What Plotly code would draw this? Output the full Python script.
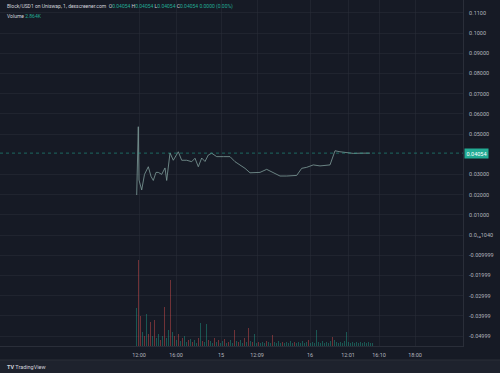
import plotly.graph_objects as go

# ---- data ----
price_x = [-2.3, -0.7, 0, 2.7, 5.5, 9.3, 12, 14.3, 17, 19.3, 22.7, 26, 27.7, 31, 34.3, 39.3, 42.7,
           47.7, 52.7, 56, 59.3, 62.7, 66, 69.3, 72.7, 77.7, 84.3, 91, 96, 101, 106, 111, 121,
           127.7, 134.3, 141, 147.7, 157.7, 162.7, 167.7, 174.3, 181, 191, 196, 201, 214.3, 221, 231]
price_y = [0.0198, 0.0536, 0.0272, 0.0223, 0.0300, 0.0338, 0.0290, 0.0270, 0.0310, 0.0310, 0.0300,
           0.0332, 0.0270, 0.0406, 0.0370, 0.0412, 0.0370, 0.0370, 0.0363, 0.0380, 0.0338, 0.0381,
           0.0364, 0.0396, 0.0405, 0.0388, 0.0388, 0.0388, 0.0363, 0.0347, 0.0330, 0.0308, 0.0310,
           0.0325, 0.0310, 0.0292, 0.0292, 0.0295, 0.0330, 0.0335, 0.0347, 0.0342, 0.0347, 0.0417,
           0.0412, 0.0404, 0.0405, 0.04054]

vol_x = list(range(-3, 234, 2))
vol_k = [38, 86, 30, 14, 10, 32, 12, 24, 10, 26, 8, 12, 6, 10, 39, 8, 16, 66, 14, 10,
         6, 12, 5, 8, 10, 4, 6, 7, 4, 6, 3, 8, 23, 5, 4, 22, 6, 5, 3, 8,
         4, 6, 3, 5, 7, 3, 4, 6, 3, 16, 5, 4, 6, 3, 8, 4, 18, 5, 4, 12,
         3, 4, 3, 4, 3, 5, 4, 3, 11, 4, 3, 5, 3, 4, 3, 4, 3, 5, 3, 4,
         3, 4, 3, 5, 3, 4, 6, 3, 4, 3, 16, 4, 3, 5, 3, 4, 3, 5, 9, 6,
         4, 3, 4, 3, 5, 14, 4, 3, 4, 3, 4, 3, 4, 3, 4, 3, 4, 3, 3]
vol_dir = ("grrgrgrrgrggrgrggrgr"
           "grgrggrgrggrgrggrggr"
           "grggrgrggrgrggrgrgrg"
           "grgggrggrggggrgggggr"
           "ggggggrgggggggggggrg"
           "ggggggggggggggggggg")

x_tickvals = [0, 37, 82, 118, 171, 209, 240, 276]
x_ticktext = ["12:00", "16:00", "15", "12:09", "16", "12:01", "16:10", "18:00"]

y_tickvals = [0.11, 0.10, 0.09, 0.08, 0.07, 0.06, 0.05, 0.03, 0.02, 0.01, 0.0,
              -0.01, -0.02, -0.03, -0.04, -0.05]
y_ticktext = ["0.1100", "0.1000", "0.09000", "0.08000", "0.07000", "0.06000", "0.05000",
              "0.03000", "0.02000", "0.01000", "0.0₁₄1040", "-0.009999", "-0.01999",
              "-0.02999", "-0.03999", "-0.04999"]

last_price = 0.04054

# ---- styles ----
BG = "#161a25"
GRID = "rgba(42,46,57,0.55)"
TXT = "#b2b5be"
GREEN = "#22ab94"
FONT = "Roboto"

cols = ["rgba(34,171,148,0.42)" if c == "g" else "rgba(239,83,80,0.42)" for c in vol_dir]

fig = go.Figure()
fig.add_trace(go.Bar(x=vol_x, y=vol_k, marker=dict(color=cols, line=dict(width=0)),
                     width=1.0, yaxis="y2", showlegend=False, hoverinfo="skip"))
fig.add_trace(go.Scatter(x=price_x, y=price_y, mode="lines",
                         line=dict(color="rgba(125,155,152,0.9)", width=0.9),
                         showlegend=False, hoverinfo="skip"))

H = 346.0
def py(px):
    return 1 - px / H

g = lambda s: f"<span style='color:{GREEN}'>{s}</span>"
header = ("Block/USD1 on Uniswap, 1, dexscreener.com  O" + g("0.04054") + " H" + g("0.04054")
          + " L" + g("0.04054") + " C" + g("0.04054") + " " + g("0.0000 (0.00%)"))

ann = [
    dict(xref="paper", yref="y", x=1.002, y=last_price, xanchor="left", yanchor="middle",
         text="0.04054", showarrow=False, bgcolor=GREEN, borderpad=1.5,
         font=dict(size=5.5, color="#ffffff", family=FONT)),
    dict(xref="paper", yref="paper", x=5 / 463, y=py(7), xanchor="left", yanchor="middle",
         text=header, showarrow=False, font=dict(size=5, color="#d1d4dc", family=FONT)),
    dict(xref="paper", yref="paper", x=5 / 463, y=py(16), xanchor="left", yanchor="middle",
         text="Volume " + g("2.864K"), showarrow=False,
         font=dict(size=5, color="#d1d4dc", family=FONT)),
    dict(xref="paper", yref="paper", x=5 / 463, y=py(366.5), xanchor="left", yanchor="middle",
         text="<b>TV</b> TradingView", showarrow=False,
         font=dict(size=5.5, color="#d1d4dc", family=FONT)),
]

fig.update_layout(
    width=500, height=373,
    margin=dict(l=0, r=37, t=0, b=27),
    paper_bgcolor=BG, plot_bgcolor=BG,
    font=dict(family=FONT, size=5.5, color=TXT),
    bargap=0,
    xaxis=dict(range=[-139, 324], tickvals=x_tickvals, ticktext=x_ticktext,
               showgrid=True, gridcolor=GRID, gridwidth=1, zeroline=False,
               showline=True, linecolor="#2a2e39", ticks="", ticklabelstandoff=3,
               tickfont=dict(size=5.5, color=TXT)),
    yaxis=dict(range=[-0.05495, 0.11634], side="right", tickvals=y_tickvals, ticktext=y_ticktext,
               showgrid=True, gridcolor=GRID, gridwidth=1, zeroline=False,
               showline=True, linecolor="#2a2e39", ticks="", ticklabelstandoff=4,
               tickfont=dict(size=5.5, color=TXT)),
    yaxis2=dict(range=[0, 346], overlaying="y", visible=False),
    shapes=[
        dict(type="line", xref="paper", yref="y", x0=0, x1=1, y0=last_price, y1=last_price,
             line=dict(color="rgba(34,171,148,0.55)", width=1, dash="dot")),
        dict(type="rect", xref="paper", yref="paper", x0=-0.01, x1=1.09,
             y0=py(374), y1=py(360), fillcolor="#1e222d", line=dict(width=0), layer="below"),
        dict(type="line", xref="paper", yref="paper", x0=-0.01, x1=1.09,
             y0=py(360), y1=py(360), line=dict(color="#2a2e39", width=1)),
    ],
    annotations=ann,
)

fig.write_html("out.html", config={"displayModeBar": False},
               post_script="document.body.style.margin='0';document.body.style.background='#161a25';")
